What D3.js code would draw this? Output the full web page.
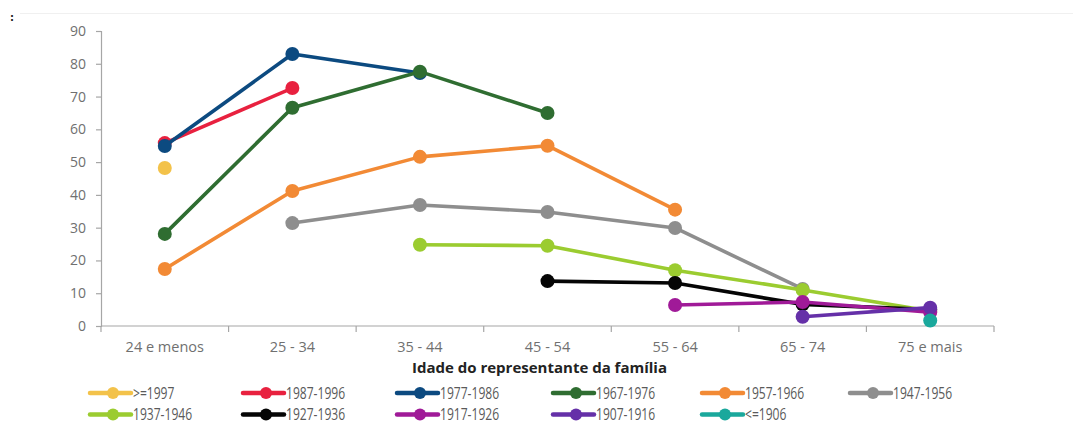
<!DOCTYPE html>
<html><head><meta charset="utf-8">
<script src="https://cdn.jsdelivr.net/npm/d3@7"></script>
<style>
body{margin:0;background:#fff;}
svg{display:block;}
</style></head>
<body><svg id="c" width="1073" height="428"></svg>
<script>
const categories = ["24 e menos","25 - 34","35 - 44","45 - 54","55 - 64","65 - 74","75 e mais"];
const seriesNames = [">=1997","1987-1996","1977-1986","1967-1976","1957-1966","1947-1956","1937-1946","1927-1936","1917-1926","1907-1916","<=1906"];
const seriesColors = ["#f3c24a","#e8213f","#0c4a80","#2f6d31","#f28a35","#8e8e8e","#9bcc30","#050505","#a01a98","#6530a8","#1aa89c"];
// values per category (null = no data)
const s1997 = [48.2,null,null,null,null,null,null];
const s1987 = [55.8,72.6,null,null,null,null,null];
const s1977 = [54.9,83.0,77.2,null,null,null,null];
const s1967 = [28.1,66.6,77.6,65.0,null,null,null];
const s1957 = [17.4,41.2,51.6,55.0,35.5,null,null];
const s1947 = [null,31.4,36.9,34.8,29.9,11.3,null];
const s1937 = [null,null,24.8,24.5,17.0,11.0,4.6];
const s1927 = [null,null,null,13.7,13.1,6.6,5.0];
const s1917 = [null,null,null,null,6.4,7.3,4.2];
const s1907 = [null,null,null,null,null,2.8,5.6];
const s1906 = [null,null,null,null,null,null,1.7];
const yTicks = [0,10,20,30,40,50,60,70,80,90];
const xTitle = "Idade do representante da família";

const allSeries = [s1997,s1987,s1977,s1967,s1957,s1947,s1937,s1927,s1917,s1907,s1906];

const svg = d3.select("#c");
const mLeft = 101, mRight = 994, mTop = 31, mBottom = 326;
const x = d3.scaleBand().domain(categories).range([mLeft,mRight]).padding(0);
const y = d3.scaleLinear().domain([0,90]).range([mBottom,mTop]);

// faint top frame line and small marker
svg.append("line").attr("x1",20).attr("x2",1073).attr("y1",13.5).attr("y2",13.5).attr("stroke","#f0f0f0");
svg.append("text").attr("x",10).attr("y",21).attr("font-family","DejaVu Sans").attr("font-size",10).attr("font-weight","bold").attr("fill","#222").text(":");

const font = "'Open Sans', 'Noto Sans', sans-serif";
const axisCol = "#a6a6a6";
const labelCol = "#707070";

// Y axis
const ya = svg.append("g").attr("transform",`translate(${mLeft},0)`)
  .call(d3.axisLeft(y).tickValues(yTicks).tickSize(5).tickPadding(10));
ya.select(".domain").attr("stroke",axisCol).attr("stroke-width",1.2);
ya.selectAll(".tick line").attr("stroke",axisCol).attr("stroke-width",1.2);
ya.selectAll(".tick text").attr("font-family",font).attr("font-size",14).attr("fill",labelCol);

// X axis with ticks at band boundaries
const xa = svg.append("g").attr("transform",`translate(0,${mBottom})`);
xa.append("line").attr("x1",mLeft).attr("x2",mRight).attr("stroke",axisCol).attr("stroke-width",1.2);
const bounds = categories.map(c=>x(c)).concat([x(categories[categories.length-1])+x.bandwidth()]);
xa.selectAll("line.tk").data(bounds).join("line").attr("class","tk")
  .attr("x1",d=>d).attr("x2",d=>d).attr("y1",0).attr("y2",6).attr("stroke",axisCol).attr("stroke-width",1.2);
xa.selectAll("text").data(categories).join("text")
  .attr("x",d=>x(d)+x.bandwidth()/2).attr("y",26).attr("text-anchor","middle")
  .attr("font-family",font).attr("font-size",14.5).attr("fill",labelCol).text(d=>d);

svg.append("text").attr("x",539.5).attr("y",373).attr("text-anchor","middle")
  .attr("font-family",font).attr("font-size",15).attr("font-weight","bold").attr("fill","#222").text(xTitle);

// Series
const line = d3.line().defined(d=>d.v!==null).x(d=>x(d.c)+x.bandwidth()/2).y(d=>y(d.v));
allSeries.forEach((vals,i)=>{
  const pts = vals.map((v,j)=>({c:categories[j],v}));
  const g = svg.append("g");
  g.append("path").datum(pts).attr("d",line).attr("fill","none")
    .attr("stroke",seriesColors[i]).attr("stroke-width",3.6).attr("stroke-linejoin","round");
  g.selectAll("circle").data(pts.filter(d=>d.v!==null)).join("circle")
    .attr("cx",d=>x(d.c)+x.bandwidth()/2).attr("cy",d=>y(d.v)).attr("r",7).attr("fill",seriesColors[i]);
});

// Legend
const legCols = [90,243,397,553,702,850];
seriesNames.forEach((n,i)=>{
  const row = Math.floor(i/6), col = i%6;
  const lx = legCols[col], ly = 393 + row*21.5;
  const g = svg.append("g");
  g.append("line").attr("x1",lx).attr("x2",lx+41).attr("y1",ly).attr("y2",ly)
    .attr("stroke",seriesColors[i]).attr("stroke-width",4.5).attr("stroke-linecap","round");
  g.append("circle").attr("cx",lx+23).attr("cy",ly).attr("r",6).attr("fill",seriesColors[i]);
  g.append("text").attr("transform",`translate(${lx+43},${ly+5.5}) scale(0.78,1)`)
    .attr("font-family",font).attr("font-size",15.5).attr("fill","#5a5a5a").text(n);
});
</script></body></html>
